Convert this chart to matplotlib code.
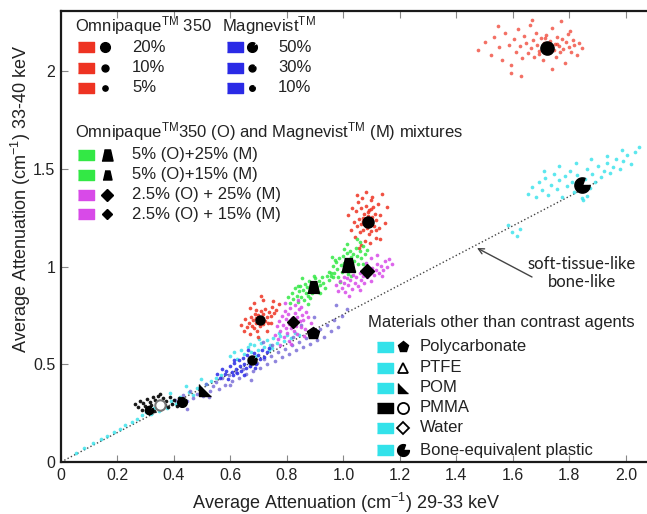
import matplotlib.pyplot as plt
from matplotlib.path import Path

plt.rcParams['font.family'] = ['Liberation Sans', 'DejaVu Sans']
plt.rcParams['mathtext.fontset'] = 'custom'
plt.rcParams['mathtext.rm'] = 'Liberation Sans'
plt.rcParams['mathtext.it'] = 'Liberation Sans:italic'

# ---- point clouds (x = 29-33 keV, y = 33-40 keV) ----
omni20_x = [1.478, 1.503, 1.521, 1.534, 1.552, 1.561, 1.573, 1.585, 1.594, 1.603, 1.611, 1.618, 1.627, 1.633, 1.641,
            1.648, 1.652, 1.659, 1.664, 1.671, 1.676, 1.683, 1.687, 1.694, 1.698, 1.705, 1.709, 1.716, 1.722, 1.727,
            1.733, 1.738, 1.744, 1.749, 1.753, 1.758, 1.764, 1.768, 1.773, 1.779, 1.783, 1.788, 1.794, 1.799, 1.805,
            1.812, 1.818, 1.826, 1.834, 1.845, 1.592, 1.668, 1.737, 1.801, 1.546, 1.692, 1.771, 1.629, 1.714, 1.757]
omni20_y = [2.108, 2.146, 2.082, 2.173, 2.121, 2.057, 2.193, 2.134, 2.031, 2.162, 2.098, 2.214, 2.127, 2.069, 2.181,
            2.143, 2.092, 2.236, 2.117, 2.158, 2.073, 2.196, 2.131, 2.104, 2.167, 2.058, 2.142, 2.186, 2.119, 2.091,
            2.153, 2.221, 2.107, 2.139, 2.072, 2.175, 2.126, 2.098, 2.162, 2.113, 2.041, 2.148, 2.187, 2.124, 2.096,
            2.159, 2.133, 2.083, 2.142, 2.116, 1.988, 2.262, 2.011, 2.205, 2.231, 2.085, 2.254, 1.973, 2.168, 2.137]
omni10_x = [1.018, 1.026, 1.031, 1.037, 1.041, 1.044, 1.048, 1.052, 1.055, 1.058, 1.061, 1.064, 1.067, 1.069, 1.072,
            1.075, 1.078, 1.081, 1.083, 1.086, 1.089, 1.092, 1.094, 1.097, 1.099, 1.102, 1.105, 1.108, 1.111, 1.114,
            1.117, 1.121, 1.125, 1.131, 1.138, 1.146, 1.153, 1.062, 1.079, 1.094, 1.071, 1.103, 1.088, 1.056, 1.116,
            1.047, 1.084, 1.128, 1.068, 1.099]
omni10_y = [1.262, 1.188, 1.301, 1.226, 1.152, 1.284, 1.207, 1.331, 1.243, 1.174, 1.298, 1.216, 1.352, 1.187, 1.268,
            1.133, 1.234, 1.311, 1.198, 1.257, 1.165, 1.289, 1.224, 1.342, 1.181, 1.253, 1.302, 1.208, 1.271, 1.146,
            1.236, 1.319, 1.196, 1.263, 1.371, 1.224, 1.305, 1.108, 1.382, 1.121, 1.247, 1.358, 1.279, 1.093, 1.188,
            1.364, 1.215, 1.142, 1.233, 1.295]
omni5_x = [0.638, 0.647, 0.653, 0.659, 0.664, 0.668, 0.672, 0.676, 0.679, 0.683, 0.686, 0.689, 0.692, 0.695, 0.698,
           0.701, 0.704, 0.707, 0.711, 0.714, 0.717, 0.721, 0.724, 0.728, 0.732, 0.737, 0.742, 0.748, 0.755, 0.763,
           0.771, 0.683, 0.716, 0.697, 0.742, 0.668, 0.729, 0.708, 0.691, 0.752]
omni5_y = [0.702, 0.668, 0.731, 0.689, 0.712, 0.654, 0.741, 0.697, 0.724, 0.683, 0.758, 0.709, 0.736, 0.671, 0.752,
           0.718, 0.694, 0.771, 0.733, 0.706, 0.757, 0.722, 0.784, 0.741, 0.713, 0.768, 0.747, 0.792, 0.761, 0.778,
           0.806, 0.812, 0.828, 0.637, 0.711, 0.786, 0.672, 0.849, 0.779, 0.822]
mix_g15_x = [0.804, 0.812, 0.818, 0.823, 0.829, 0.834, 0.838, 0.843, 0.847, 0.851, 0.856, 0.859, 0.863, 0.867, 0.871,
             0.875, 0.878, 0.882, 0.886, 0.889, 0.893, 0.897, 0.901, 0.905, 0.909, 0.913, 0.918, 0.923, 0.928, 0.934,
             0.941, 0.948, 0.955, 0.963, 0.852, 0.874, 0.896, 0.918, 0.838, 0.881]
mix_g15_y = [0.842, 0.812, 0.867, 0.834, 0.889, 0.851, 0.818, 0.873, 0.902, 0.846, 0.881, 0.829, 0.912, 0.864, 0.893,
             0.851, 0.927, 0.878, 0.906, 0.862, 0.918, 0.884, 0.941, 0.897, 0.869, 0.926, 0.903, 0.948, 0.917, 0.889,
             0.952, 0.931, 0.967, 0.948, 0.941, 0.807, 0.953, 0.862, 0.902, 0.839]
mix_g25_x = [0.948, 0.956, 0.962, 0.968, 0.973, 0.978, 0.982, 0.986, 0.991, 0.995, 0.999, 1.003, 1.007, 1.011, 1.015,
             1.019, 1.023, 1.027, 1.031, 1.035, 1.039, 1.043, 1.048, 1.053, 1.058, 1.063, 1.069, 1.076, 1.084, 0.987,
             1.012, 1.036, 1.059, 0.971, 1.026, 1.047, 1.002, 1.068, 0.959, 1.018]
mix_g25_y = [0.974, 0.951, 1.002, 0.967, 1.023, 0.988, 0.946, 1.041, 1.007, 0.972, 1.056, 1.019, 0.983, 1.068, 1.034,
             0.996, 1.081, 1.047, 1.011, 1.062, 1.026, 1.094, 1.052, 1.013, 1.078, 1.041, 1.103, 1.066, 1.087, 0.921,
             1.117, 0.978, 1.126, 1.031, 0.952, 1.142, 1.088, 1.012, 1.049, 0.961]
mix_m25_x = [0.972, 0.981, 0.988, 0.994, 1.001, 1.007, 1.013, 1.018, 1.024, 1.029, 1.035, 1.041, 1.046, 1.052, 1.057,
             1.063, 1.068, 1.074, 1.079, 1.085, 1.091, 1.096, 1.102, 1.108, 1.114, 1.119, 1.126, 1.132, 1.139, 1.146,
             1.154, 1.163, 1.172, 1.021, 1.058, 1.097, 1.136, 1.003, 1.081, 1.118]
mix_m25_y = [0.904, 0.876, 0.928, 0.891, 0.917, 0.868, 0.942, 0.903, 0.931, 0.887, 0.956, 0.918, 0.944, 0.902, 0.968,
             0.931, 0.953, 0.914, 0.982, 0.947, 0.969, 0.928, 0.994, 0.958, 0.981, 1.012, 0.967, 1.003, 0.984, 1.026,
             0.998, 1.037, 1.014, 0.851, 0.879, 1.041, 0.952, 0.947, 1.018, 1.058]
mix_m15_x = [0.758, 0.764, 0.769, 0.773, 0.777, 0.781, 0.785, 0.788, 0.792, 0.795, 0.798, 0.802, 0.805, 0.808, 0.811,
             0.814, 0.818, 0.821, 0.824, 0.827, 0.831, 0.834, 0.837, 0.841, 0.845, 0.849, 0.853, 0.858, 0.863, 0.869,
             0.876, 0.884, 0.792, 0.816, 0.839, 0.861, 0.774, 0.829, 0.806, 0.851]
mix_m15_y = [0.652, 0.694, 0.628, 0.721, 0.668, 0.746, 0.703, 0.641, 0.772, 0.685, 0.729, 0.662, 0.758, 0.707, 0.789,
             0.683, 0.736, 0.714, 0.671, 0.764, 0.698, 0.742, 0.655, 0.781, 0.719, 0.693, 0.751, 0.728, 0.682, 0.769,
             0.741, 0.712, 0.812, 0.603, 0.827, 0.642, 0.596, 0.801, 0.618, 0.794]
mag50_x = [0.552, 0.563, 0.571, 0.579, 0.586, 0.592, 0.598, 0.604, 0.609, 0.614, 0.619, 0.624, 0.629, 0.634, 0.639,
           0.644, 0.649, 0.654, 0.659, 0.664, 0.669, 0.674, 0.679, 0.685, 0.691, 0.697, 0.704, 0.711, 0.719, 0.728,
           0.738, 0.612, 0.648, 0.687, 0.662]
mag50_y = [0.452, 0.431, 0.476, 0.449, 0.468, 0.427, 0.491, 0.462, 0.443, 0.506, 0.478, 0.455, 0.521, 0.489, 0.467,
           0.534, 0.503, 0.481, 0.546, 0.512, 0.493, 0.538, 0.517, 0.559, 0.502, 0.546, 0.528, 0.571, 0.539, 0.562,
           0.583, 0.524, 0.447, 0.482, 0.571]
mag_low_x = [0.402, 0.418, 0.431, 0.446, 0.458, 0.469, 0.481, 0.492, 0.503, 0.514, 0.526, 0.537, 0.548, 0.559, 0.571,
             0.582, 0.594, 0.606, 0.618, 0.631, 0.643, 0.656, 0.668, 0.681, 0.694, 0.706, 0.718, 0.731, 0.743, 0.756,
             0.768, 0.781, 0.793, 0.806, 0.818, 0.831, 0.843, 0.856, 0.868, 0.881, 0.893, 0.906, 0.918, 0.931, 0.943,
             0.956, 0.968, 0.981, 0.994, 1.012, 0.447, 0.523, 0.598, 0.672, 0.747, 0.822, 0.897, 0.972, 0.716, 0.851]
mag_low_y = [0.318, 0.297, 0.342, 0.312, 0.361, 0.328, 0.349, 0.381, 0.336, 0.397, 0.362, 0.389, 0.411, 0.372, 0.428,
             0.396, 0.447, 0.412, 0.462, 0.431, 0.478, 0.452, 0.489, 0.468, 0.508, 0.483, 0.526, 0.501, 0.542, 0.519,
             0.563, 0.536, 0.579, 0.553, 0.597, 0.571, 0.614, 0.588, 0.636, 0.604, 0.657, 0.623, 0.679, 0.641, 0.702,
             0.668, 0.724, 0.689, 0.746, 0.782, 0.272, 0.331, 0.392, 0.418, 0.597, 0.638, 0.742, 0.801, 0.612, 0.701]
plastic_x = [0.598, 0.612, 0.624, 0.637, 0.649, 0.661, 0.673, 0.684, 0.696, 0.707, 0.718, 0.729, 0.741, 0.752, 0.764,
             0.776, 0.788, 0.801, 0.814, 0.828, 0.843, 0.668, 0.702, 0.736, 0.771, 0.689, 0.748,
             0.052, 0.083, 0.112, 0.141, 0.163, 0.187, 0.209, 0.228, 0.251, 0.268, 0.287, 0.302, 0.318, 0.331, 0.346,
             0.362, 0.377, 0.391, 0.406, 0.421, 0.437, 0.452, 0.468, 0.483, 0.498, 0.514, 0.531, 0.549, 0.566, 0.387,
             0.442, 0.496]
plastic_y = [0.541, 0.562, 0.528, 0.574, 0.553, 0.588, 0.561, 0.597, 0.574, 0.611, 0.586, 0.623, 0.598, 0.636, 0.609,
             0.644, 0.621, 0.652, 0.633, 0.661, 0.648, 0.604, 0.627, 0.572, 0.658, 0.542, 0.583,
             0.048, 0.071, 0.096, 0.118, 0.131, 0.152, 0.168, 0.189, 0.203, 0.221, 0.238, 0.257, 0.243, 0.276, 0.261,
             0.291, 0.274, 0.312, 0.296, 0.334, 0.318, 0.356, 0.341, 0.377, 0.362, 0.398, 0.412, 0.431, 0.447, 0.352,
             0.389, 0.424]
bone_x = [1.652, 1.668, 1.681, 1.693, 1.704, 1.715, 1.726, 1.736, 1.746, 1.756, 1.765, 1.774, 1.783, 1.792, 1.801,
          1.809, 1.818, 1.827, 1.836, 1.845, 1.854, 1.863, 1.872, 1.881, 1.891, 1.901, 1.911, 1.921, 1.932, 1.943,
          1.954, 1.966, 1.978, 1.991, 2.004, 2.018, 2.033, 2.048, 1.712, 1.764, 1.823, 1.876, 1.934, 1.987, 1.848,
          1.861, 1.598, 1.614, 1.627, 1.582]
bone_y = [1.372, 1.408, 1.356, 1.431, 1.389, 1.452, 1.367, 1.418, 1.474, 1.396, 1.441, 1.358, 1.462, 1.412, 1.487,
          1.433, 1.381, 1.469, 1.421, 1.352, 1.446, 1.498, 1.401, 1.472, 1.431, 1.513, 1.458, 1.489, 1.532, 1.476,
          1.511, 1.549, 1.497, 1.538, 1.571, 1.526, 1.587, 1.612, 1.491, 1.512, 1.531, 1.551, 1.566, 1.596, 1.338,
          1.362, 1.176, 1.158, 1.193, 1.212]
pmma_x = [0.262, 0.271, 0.279, 0.286, 0.292, 0.298, 0.304, 0.309, 0.314, 0.319, 0.324, 0.329, 0.334, 0.339, 0.344,
          0.349, 0.355, 0.361, 0.367, 0.373, 0.379, 0.386, 0.393, 0.401, 0.409, 0.418, 0.428, 0.439, 0.312, 0.351]
pmma_y = [0.297, 0.281, 0.312, 0.268, 0.301, 0.286, 0.322, 0.273, 0.309, 0.291, 0.331, 0.262, 0.317, 0.284, 0.339,
          0.302, 0.271, 0.326, 0.293, 0.314, 0.279, 0.332, 0.298, 0.318, 0.287, 0.327, 0.304, 0.319, 0.251, 0.347]

# ---- mean values (black symbols) ----
omni_labels = ['20%', '10%', '5%']
omni_mean_x = [1.72, 1.087, 0.704]
omni_mean_y = [2.12, 1.228, 0.726]
mag_labels = ['50%', '30%', '10%']
mag_mean_x = [0.676, 0.43, 0.31]
mag_mean_y = [0.52, 0.305, 0.265]
mix_labels = ['5% (O)+25% (M)', '5% (O)+15% (M)', '2.5% (O) + 25% (M)', '2.5% (O) + 15% (M)']
mix_mean_x = [1.016, 0.892, 1.083, 0.821]
mix_mean_y = [1.008, 0.895, 0.977, 0.716]
mat_labels = ['Polycarbonate', 'PTFE', 'POM', 'PMMA', 'Water', 'Bone-equivalent plastic']
pc_mean = (0.892, 0.66)
pom_mean = (0.51, 0.37)
pmma_mean = (0.35, 0.29)
bone_mean = (1.845, 1.417)
line_slope = 0.755
line_end = 1.9

# ---- styles ----
RED, BLUE, GREEN, MAG, CYAN, PURP = '#ee3322', '#2a2ae6', '#33e845', '#d84ae8', '#33e2ea', '#6a5cd2'
rect = [(-1.5, -1), (1.5, -1), (1.5, 1), (-1.5, 1)]
trap = [(-1, -1), (1, -1), (0.55, 1), (-0.55, 1)]
rtri = [(-1, 1), (-1, -1), (1, -1)]
pac = Path.wedge(70, 360)
drop = Path.wedge(60, 390)

fig = plt.figure(figsize=(6.47, 5.14), dpi=100)
ax = fig.add_axes([61 / 647, 52 / 514, 586 / 647, 451 / 514])
ax.set_xlim(0, 2.075)
ax.set_ylim(0, 2.307)

dot = dict(s=7, marker='o', linewidths=0)
ax.plot([0, line_end], [0, line_end * line_slope], ls=':', color='#444444', lw=1.0, zorder=1)
ax.scatter(plastic_x, plastic_y, color=CYAN, alpha=0.8, **dot)
ax.scatter(bone_x, bone_y, color=CYAN, alpha=0.8, **dot)
ax.scatter(mag_low_x, mag_low_y, color=PURP, alpha=0.75, **dot)
ax.scatter(mag50_x, mag50_y, color=BLUE, alpha=0.85, **dot)
ax.scatter(pmma_x, pmma_y, color='black', alpha=0.9, **dot)
ax.scatter(omni20_x, omni20_y, color=RED, alpha=0.7, **dot)
ax.scatter(omni10_x, omni10_y, color=RED, alpha=0.85, **dot)
ax.scatter(omni5_x, omni5_y, color=RED, alpha=0.85, **dot)
ax.scatter(mix_g15_x, mix_g15_y, color=GREEN, alpha=0.85, **dot)
ax.scatter(mix_g25_x, mix_g25_y, color=GREEN, alpha=0.85, **dot)
ax.scatter(mix_m25_x, mix_m25_y, color=MAG, alpha=0.85, **dot)
ax.scatter(mix_m15_x, mix_m15_y, color=MAG, alpha=0.85, **dot)

# black mean markers
for (x, y, ms) in zip(omni_mean_x, omni_mean_y, [9.5, 8, 6.5]):
    ax.plot(x, y, 'o', color='black', ms=ms, zorder=5)
for (x, y, ms) in zip(mag_mean_x, mag_mean_y, [6.5, 7, 6]):
    ax.plot(x, y, marker=drop, color='black', ms=ms, ls='', zorder=5)
ax.plot(mix_mean_x[0], mix_mean_y[0], marker=trap, color='black', ms=10, ls='', zorder=5)
ax.plot(mix_mean_x[1], mix_mean_y[1], marker=trap, color='black', ms=8.5, ls='', zorder=5)
ax.plot(mix_mean_x[2], mix_mean_y[2], 'D', color='black', ms=7.5, zorder=5)
ax.plot(mix_mean_x[3], mix_mean_y[3], 'D', color='black', ms=6, zorder=5)
ax.plot(*pc_mean, 'p', color='black', ms=9, zorder=5)
ax.plot(*pom_mean, marker=rtri, color='black', ms=8.5, ls='', zorder=5)
ax.plot(*pmma_mean, 'o', mfc='white', mec='#777777', mew=1.5, ms=7.5, zorder=6)
ax.plot(*bone_mean, marker=pac, color='black', ms=11, ls='', zorder=5)


# ---- hand-drawn legend blocks (positions in picture pixels) ----
def P(px, py):
    return ((px - 61) / 586, (462 - py) / 451)


def key(px, py, color, marker, ms, mx, text, tx, **mkw):
    ax.plot(*P(px, py), marker=rect, color=color, ms=11.5, ls='', transform=ax.transAxes, clip_on=False)
    ax.plot(*P(mx, py), marker=marker, color='black', ms=ms, ls='', transform=ax.transAxes, **mkw)
    ax.text(*P(tx, py), text, transform=ax.transAxes, va='center', ha='left', fontsize=12, color='#222222')


ax.annotate('', xy=P(477, 248), xytext=P(532, 277), xycoords='axes fraction', textcoords='axes fraction',
            arrowprops=dict(arrowstyle='->', color='#444444', lw=1.0, shrinkA=0, shrinkB=0))
ax.text(*P(582, 273), 'soft-tissue-like\nbone-like', transform=ax.transAxes, ha='center', va='center',
        fontsize=12, family=['Lato', 'DejaVu Sans'], color='#222222', linespacing=1.2)

TXT = dict(transform=ax.transAxes, va='center', ha='left', fontsize=12, color='#222222')
ax.text(*P(75, 26), r'Omnipaque$^{\mathrm{TM}}$ 350', **TXT)
ax.text(*P(222, 26), r'Magnevist$^{\mathrm{TM}}$', **TXT)
for lab, py, ms in zip(omni_labels, [47, 68, 88], [7, 5, 3.8]):
    key(86, py, RED, 'o', ms, 105, lab, 132)
for lab, py, ms in zip(mag_labels, [47, 68, 88], [7, 5, 4]):
    key(235, py, BLUE, drop, ms, 252, lab, 278)

ax.text(*P(75, 132), r'Omnipaque$^{\mathrm{TM}}$350 (O) and Magnevist$^{\mathrm{TM}}$ (M) mixtures', **TXT)
mix_cols = [GREEN, GREEN, MAG, MAG]
mix_mk = [(trap, 8), (trap, 6.5), ('D', 6), ('D', 5)]
for lab, py, c, (mk, ms) in zip(mix_labels, [155, 175, 195, 214], mix_cols, mix_mk):
    key(86, py, c, mk, ms, 107, lab, 132)

ax.text(*P(368, 322), 'Materials other than contrast agents', **TXT)
mat_cols = [CYAN, CYAN, CYAN, 'black', CYAN, CYAN]
mat_mk = [('p', 8, {}), ('^', 7.5, dict(mfc='none', mew=1.3)), (rtri, 7, {}),
          ('o', 8, dict(mfc='none', mew=1.3)), ('D', 6, dict(mfc='none', mew=1.3)), (pac, 8.5, {})]
for lab, py, c, (mk, ms, kw) in zip(mat_labels, [347, 368, 388, 408, 428, 450], mat_cols, mat_mk):
    key(385, py, c, mk, ms, 403, lab, 420, **kw)

# ---- axes cosmetics ----
ax.set_xticks([0, 0.2, 0.4, 0.6, 0.8, 1.0, 1.2, 1.4, 1.6, 1.8, 2.0])
ax.set_xticklabels(['0', '0.2', '0.4', '0.6', '0.8', '1.0', '1.2', '1.4', '1.6', '1.8', '2.0'])
ax.set_yticks([0, 0.5, 1, 1.5, 2])
ax.set_yticklabels(['0', '0.5', '1', '1.5', '2'])
ax.tick_params(direction='in', length=5, width=0.8, color='#888888', labelsize=11.5,
               labelcolor='#222222', top=True, right=False, pad=4)
for s in ['left', 'top', 'bottom']:
    ax.spines[s].set_linewidth(1.6)
    ax.spines[s].set_color('#1a1a1a')
ax.spines['right'].set_visible(False)

fig.text(346 / 647, 1 - 503 / 514, r'Average Attenuation (cm$^{-1}$) 29-33 keV', ha='center', va='center',
         fontsize=13, color='#222222')
fig.text(21 / 647, 1 - 199 / 514, r'Average Attenuation (cm$^{-1}$) 33-40 keV', ha='center', va='center',
         rotation=90, fontsize=13, color='#222222')

fig.savefig('out.png', dpi=100)
